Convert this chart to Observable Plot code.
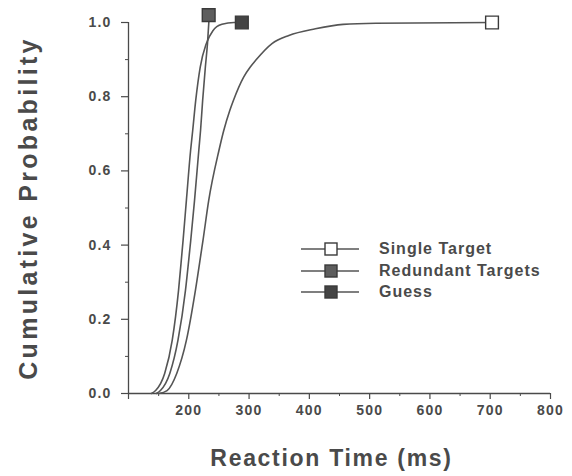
<!DOCTYPE html>
<html>
<head>
<meta charset="utf-8">
<script src="https://cdn.jsdelivr.net/npm/d3@7"></script>
<script src="https://cdn.jsdelivr.net/npm/@observablehq/plot@0.6"></script>
<style>
  html, body { margin: 0; padding: 0; background: #fff; }
  #wrap { position: relative; width: 572px; height: 476px; font-family: "Liberation Sans", Arial, sans-serif; }
  #legend { position: absolute; left: 301px; top: 238px; color: #4a4a4a; font-weight: bold; font-size: 16px; letter-spacing: 1px; }
  .row { display: flex; align-items: center; height: 21.7px; }
  .row svg { margin-right: 20px; }
</style>
</head>
<body>
<div id="wrap"></div>
<script>
// ---- data ----
const seriesNames = ["Single Target", "Redundant Targets", "Guess"];

const singleRT   = [150, 164, 180, 196, 211, 221, 223.5, 233, 250, 258, 268, 274, 291, 302, 311, 338, 366, 410, 456, 510, 703];
const singleP    = [0, 0.008, 0.054, 0.143, 0.278, 0.385, 0.412, 0.52, 0.655, 0.709, 0.763, 0.79, 0.853, 0.88, 0.898, 0.943, 0.965, 0.983, 0.995, 0.998, 1.0];

const redundantRT = [146, 153, 168.5, 182, 194.5, 201.5, 203.2, 209.5, 216.6, 219.5, 223, 227.5, 231, 234];
const redundantP  = [0, 0.008, 0.054, 0.143, 0.278, 0.385, 0.412, 0.52, 0.655, 0.709, 0.79, 0.88, 0.943, 1.02];

const guessRT = [138, 145, 160, 172.5, 183, 189, 190.5, 196, 203, 206.5, 211.5, 219, 229, 240, 255, 275, 288];
const guessP  = [0, 0.008, 0.054, 0.143, 0.278, 0.385, 0.412, 0.52, 0.655, 0.709, 0.79, 0.88, 0.943, 0.978, 0.995, 1.0, 1.0];

// end markers
const markerRT = [703, 233, 288];
const markerP  = [1.0, 1.02, 1.0];

const xTicks = [100, 200, 300, 400, 500, 600, 700, 800];
const xTickLabels = ["", "200", "300", "400", "500", "600", "700", "800"];
const xMinor = [150, 250, 350, 450, 550, 650, 750];
const yMajor = [0, 0.2, 0.4, 0.6, 0.8, 1.0];
const yMinor = [0.1, 0.3, 0.5, 0.7, 0.9];

const xLabel = "Reaction Time (ms)";
const yLabel = "Cumulative Probability";

// ---- build tables ----
const toRows = (name, xs, ys) => xs.map((x, i) => ({series: name, rt: x, p: ys[i]}));
const curves = [
  ...toRows(seriesNames[0], singleRT, singleP),
  ...toRows(seriesNames[1], redundantRT, redundantP),
  ...toRows(seriesNames[2], guessRT, guessP)
];
const markers = seriesNames.map((s, i) => ({series: s, rt: markerRT[i], p: markerP[i]}));
const fills = {"Single Target": "#ffffff", "Redundant Targets": "#5e5e5e", "Guess": "#444444"};
const xFmt = d => xTickLabels[xTicks.indexOf(d)];

const ink = "#4a4a4a";

const chart = Plot.plot({
  width: 572,
  height: 476,
  marginTop: 22,
  marginBottom: 83,
  marginLeft: 128,
  marginRight: 22,
  style: {fontFamily: "'Liberation Sans', Arial, sans-serif", color: ink, background: "#fff"},
  x: {domain: [100, 800]},
  y: {domain: [0, 1]},
  marks: [
    Plot.axisX({ticks: xTicks, tickFormat: xFmt, tickSize: 6, tickPadding: 6, fontSize: 14, fontWeight: "bold", label: null, stroke: ink, strokeWidth: 1.2, className: "xt"}),
    Plot.axisX({ticks: xMinor, tickSize: 3, text: null, label: null, stroke: ink}),
    Plot.axisY({ticks: yMajor, tickSize: 7, tickPadding: 10, fontSize: 14, fontWeight: "bold", tickFormat: d3.format(".1f"), label: null, stroke: ink, strokeWidth: 1.2, className: "yt"}),
    Plot.axisY({ticks: yMinor, tickSize: 3, text: null, label: null, stroke: ink}),
    Plot.ruleY([0], {stroke: ink, strokeWidth: 1.3}),
    Plot.ruleX([100], {y1: 0, y2: 1, stroke: ink, strokeWidth: 1.3}),
    Plot.line(curves, {x: "rt", y: "p", z: "series", curve: "monotone-x", stroke: "#555", strokeWidth: 1.6}),
    Plot.dot(markers, {x: "rt", y: "p", symbol: "square", r: 7.2, fill: d => fills[d.series], stroke: "#3a3a3a", strokeWidth: 1.4}),
    Plot.text([xLabel], {frameAnchor: "bottom", lineAnchor: "middle", textAnchor: "middle", dy: 65, dx: -8, text: d => d, fontSize: 23, fontWeight: "bold", fill: ink, className: "xlab"}),
    Plot.text([yLabel], {frameAnchor: "left", textAnchor: "middle", lineAnchor: "middle", dx: -100, dy: 0, rotate: -90, text: d => d, fontSize: 25, fontWeight: "bold", fill: ink, className: "ylab"})
  ]
});

// widen the lettering to match the reference typeface
d3.select(chart).selectAll(".xlab text").attr("letter-spacing", "1.7px");
d3.select(chart).selectAll(".ylab text").attr("letter-spacing", "3.3px");
d3.select(chart).selectAll("[aria-label='x-axis tick label'] text, [aria-label='y-axis tick label'] text").attr("letter-spacing", "1.2px");

const wrap = document.getElementById("wrap");
wrap.appendChild(chart);

// legend overlay inside the plot area
const legend = document.createElement("div");
legend.id = "legend";
legend.innerHTML = seriesNames.map(s => `
  <div class="row">
    <svg width="58" height="16">
      <line x1="0" x2="58" y1="8" y2="8" stroke="#555" stroke-width="1.4"/>
      <rect x="24" y="2" width="12" height="12" fill="${fills[s]}" stroke="#3a3a3a" stroke-width="1.4"/>
    </svg>
    <span>${s}</span>
  </div>`).join("");
wrap.appendChild(legend);
</script>
</body>
</html>
